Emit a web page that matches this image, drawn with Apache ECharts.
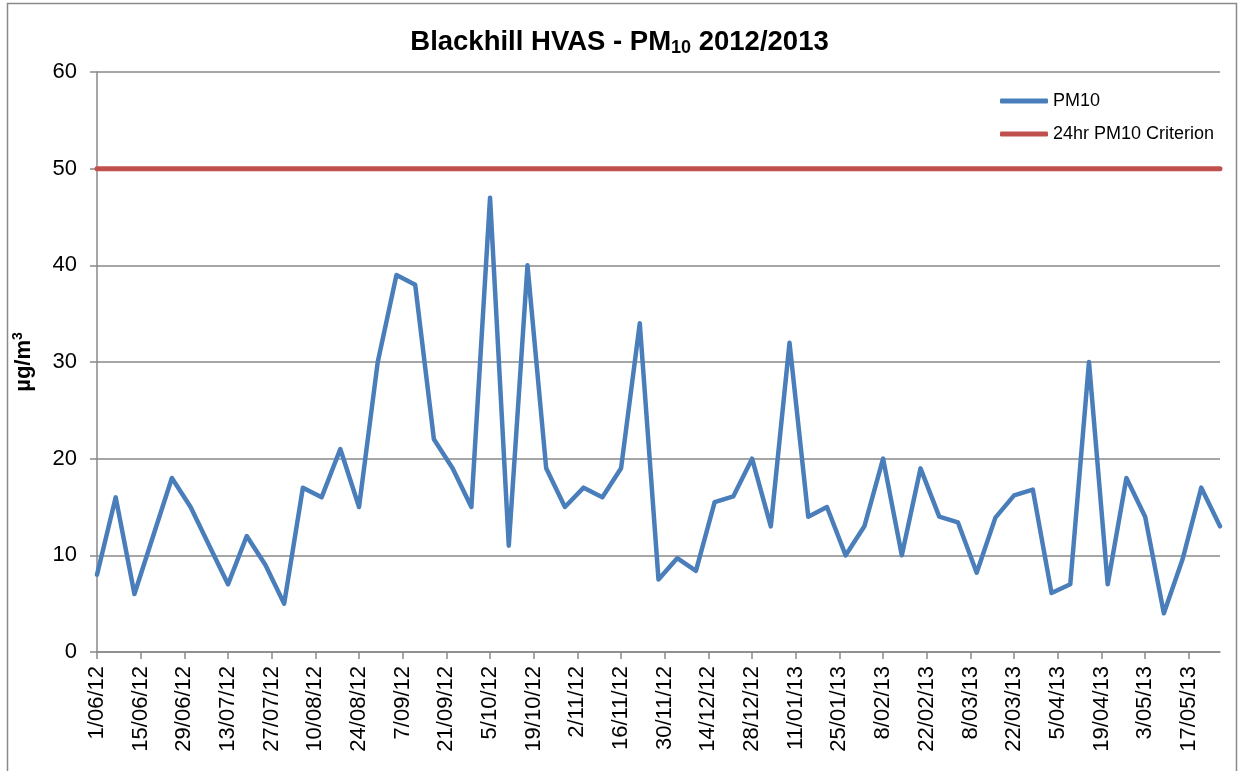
<!DOCTYPE html>
<html>
<head>
<meta charset="utf-8">
<script src="https://cdn.jsdelivr.net/npm/echarts@6/dist/echarts.min.js"></script>
<style>
html,body{margin:0;padding:0;background:#fff;}
#chart{width:1239px;height:771px;}
</style>
</head>
<body>
<div id="chart"></div>
<script>
// ---- Data ----
const sampleDates = [
  '1/06/12','7/06/12','13/06/12','19/06/12','25/06/12','1/07/12','7/07/12','13/07/12','19/07/12','25/07/12',
  '31/07/12','6/08/12','12/08/12','18/08/12','24/08/12','30/08/12','5/09/12','11/09/12','17/09/12','23/09/12',
  '29/09/12','5/10/12','11/10/12','17/10/12','23/10/12','29/10/12','4/11/12','10/11/12','16/11/12','22/11/12',
  '28/11/12','4/12/12','10/12/12','16/12/12','22/12/12','28/12/12','3/01/13','9/01/13','15/01/13','21/01/13',
  '27/01/13','2/02/13','8/02/13','14/02/13','20/02/13','26/02/13','4/03/13','10/03/13','16/03/13','22/03/13',
  '28/03/13','3/04/13','9/04/13','15/04/13','21/04/13','27/04/13','3/05/13','9/05/13','15/05/13','21/05/13',
  '27/05/13'
];
const pm10Values = [
  8,16,6,12,18,15,11,7,12,9,
  5,17,16,21,15,30,39,38,22,19,
  15,47,11,40,19,15,17,16,19,34,
  7.5,9.7,8.4,15.5,16.1,20,13,32,14,15,
  10,13,20,10,19,14,13.4,8.2,13.9,16.2,
  16.8,6.1,7,30,7,18,14,4,9.6,17,
  13
];
const criterionValue = 50;
const tickLabels = [
  '1/06/12','15/06/12','29/06/12','13/07/12','27/07/12','10/08/12','24/08/12','7/09/12','21/09/12','5/10/12',
  '19/10/12','2/11/12','16/11/12','30/11/12','14/12/12','28/12/12','11/01/13','25/01/13','8/02/13','22/02/13',
  '8/03/13','22/03/13','5/04/13','19/04/13','3/05/13','17/05/13'
];
const yTicks = [0,10,20,30,40,50,60];

// ---- Helpers ----
function parseDate(s){
  const p = s.split('/');
  return Date.UTC(2000 + (+p[2]), (+p[1]) - 1, +p[0]);
}
const t0 = parseDate(sampleDates[0]);
function dayOf(s){ return Math.round((parseDate(s) - t0) / 86400000); }

const tickDays = tickLabels.map(dayOf);
const labelByDay = {};
tickLabels.forEach((l, i) => { labelByDay[tickDays[i]] = l; });
const lastDay = dayOf(sampleDates[sampleDates.length - 1]);

const pm10Data = sampleDates.map((d, i) => [dayOf(d), pm10Values[i]]);
const critData = sampleDates.map(d => [dayOf(d), criterionValue]);

const FONT = 'Liberation Sans, Arial, sans-serif';
const GRID_COLOR = '#898989';

const chart = echarts.init(document.getElementById('chart'), null, {renderer: 'canvas'});
chart.setOption({
  backgroundColor: '#ffffff',
  animation: false,
  graphic: [{
    type: 'rect',
    shape: {x: 7.5, y: 3.5, width: 1229, height: 800},
    style: {fill: 'none', stroke: '#8a8a8a', lineWidth: 1.5},
    silent: true, z: -1
  }],
  title: {
    text: '{t|Blackhill HVAS - PM}{s|10}{t| 2012/2013}',
    left: 'center',
    top: 21,
    textStyle: {
      rich: {
        t: {fontFamily: FONT, fontWeight: 'bold', fontSize: 27.5, color: '#000', lineHeight: 32},
        s: {fontFamily: FONT, fontWeight: 'bold', fontSize: 18, color: '#000', lineHeight: 32, padding: [12, 0, 0, 0]}
      }
    }
  },
  legend: {
    orient: 'vertical',
    left: 995,
    top: 87,
    icon: 'roundRect',
    itemWidth: 48,
    itemHeight: 5,
    itemGap: 15,
    textStyle: {fontFamily: FONT, fontSize: 18, color: '#000'},
    data: ['PM10', '24hr PM10 Criterion']
  },
  grid: {left: 97, right: 19, top: 72, bottom: 119, containLabel: false},
  xAxis: {
    type: 'value',
    min: 0,
    max: lastDay,
    splitLine: {show: false},
    axisLine: {show: true, onZero: false, lineStyle: {color: GRID_COLOR, width: 1.5}},
    axisTick: {show: true, inside: false, length: 7, customValues: tickDays, lineStyle: {color: GRID_COLOR, width: 1.5}},
    axisLabel: {
      customValues: tickDays,
      rotate: 90,
      margin: 14,
      fontFamily: FONT,
      fontSize: 22,
      color: '#000',
      formatter: v => labelByDay[Math.round(v)] || ''
    }
  },
  yAxis: {
    type: 'value',
    min: 0,
    max: 60,
    interval: 10,
    name: '{a|µg/m}{b|3}',
    nameLocation: 'middle',
    nameRotate: 90,
    nameGap: 61,
    nameTextStyle: {
      rich: {
        a: {fontFamily: FONT, fontWeight: 'bold', fontSize: 22, color: '#000'},
        b: {fontFamily: FONT, fontWeight: 'bold', fontSize: 14, color: '#000', padding: [0, 0, 11, 0]}
      }
    },
    splitLine: {show: true, lineStyle: {color: GRID_COLOR, width: 1.5}},
    axisLine: {show: true, lineStyle: {color: GRID_COLOR, width: 1.5}},
    axisTick: {show: true, inside: false, length: 7, lineStyle: {color: GRID_COLOR, width: 1.5}},
    axisLabel: {
      margin: 20,
      fontFamily: FONT,
      fontSize: 22,
      color: '#000',
      customValues: yTicks
    }
  },
  series: [
    {
      name: 'PM10',
      type: 'line',
      data: pm10Data,
      symbol: 'none',
      lineStyle: {color: '#4A7EBB', width: 4.5, join: 'round', cap: 'round'},
      itemStyle: {color: '#4A7EBB'},
      z: 3
    },
    {
      name: '24hr PM10 Criterion',
      type: 'line',
      data: critData,
      symbol: 'none',
      lineStyle: {color: '#C0504D', width: 5, cap: 'round'},
      itemStyle: {color: '#C0504D'},
      z: 2
    }
  ]
});
</script>
</body>
</html>
